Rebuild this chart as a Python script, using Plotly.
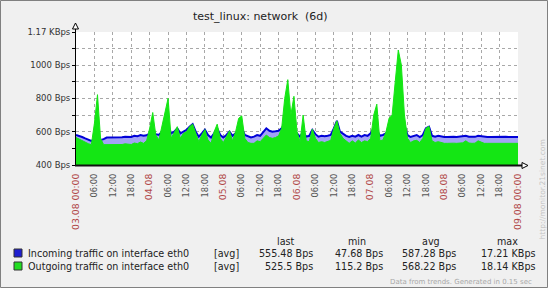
import plotly.graph_objects as go

# ---------------- data ----------------
hours = list(range(145))  # hours since 03.08 00:00
incoming = [
    580, 575, 568, 560, 552, 545, 550, 560, 550, 555,
    565, 565, 566, 568, 568, 566, 570, 570, 568, 575,
    572, 580, 575, 578, 590, 600, 585, 580, 600, 620,
    640, 590, 600, 620, 590, 600, 610, 630, 645, 600,
    570, 590, 612, 580, 565, 590, 620, 580, 565, 580,
    600, 575, 590, 620, 620, 580, 570, 565, 570, 580,
    575, 600, 620, 605, 600, 602, 605, 620, 650, 680,
    600, 620, 590, 570, 600, 570, 575, 610, 585, 570,
    575, 572, 575, 580, 620, 665, 600, 585, 575, 568,
    575, 570, 580, 570, 580, 575, 590, 620, 610, 575,
    580, 590, 620, 640, 700, 750, 700, 640, 580, 568,
    575, 580, 568, 580, 620, 630, 575, 570, 575, 570,
    568, 568, 570, 569, 568, 569, 570, 575, 570, 568,
    569, 575, 572, 568, 568, 568, 569, 568, 568, 570,
    569, 568, 568, 569, 568,
]
outgoing = [
    565, 555, 545, 535, 528, 522, 650, 822, 560, 522,
    522, 522, 522, 525, 525, 523, 527, 525, 523, 532,
    528, 538, 530, 545, 620, 715, 580, 550, 640, 720,
    800, 560, 600, 630, 560, 590, 600, 630, 645, 590,
    540, 580, 612, 550, 530, 600, 645, 560, 535, 570,
    605, 545, 600, 680, 695, 560, 535, 530, 530, 545,
    540, 560, 580, 565, 560, 565, 575, 620, 800, 912,
    700, 812, 600, 540, 700, 545, 540, 615, 560, 535,
    540, 535, 540, 548, 620, 665, 590, 560, 545, 530,
    545, 532, 550, 535, 545, 540, 560, 700, 765, 545,
    550, 600, 680, 700, 900, 1090, 1000, 700, 560, 535,
    545, 548, 535, 560, 620, 632, 545, 535, 540, 535,
    530, 530, 532, 531, 530, 531, 533, 545, 532, 530,
    531, 545, 535, 530, 530, 530, 531, 530, 530, 532,
    531, 530, 530, 531, 530,
]

title_text = "test_linux: network  (6d)"
tick_hours = list(range(0, 145, 6))
day_labels = ["03.08 00:00", "04.08", "05.08", "06.08", "07.08", "08.08", "09.08 00:00"]
hour_labels = ["06:00", "12:00", "18:00"]
y_tickvals = [400, 500, 600, 700, 800, 900, 1000, 1100, 1198]
y_ticktext = ["400 Bps", "", "600 Bps", "", "800 Bps", "", "1000 Bps", "", "1.17 KBps"]

series_names = ["Incoming traffic on interface eth0", "Outgoing traffic on interface eth0"]
series_swatch = ["#1f1fd0", "#22dd22"]
stat_headers = ["last", "min", "avg", "max"]
stats_incoming = ["555.48 Bps", "47.68 Bps", "587.28 Bps", "17.21 KBps"]
stats_outgoing = ["525.5 Bps", "115.2 Bps", "568.22 Bps", "18.14 KBps"]
footer_text = "Data from trends. Generated in 0.15 sec"
url_text = "http://monitor.21sinet.com"

# ---------------- layout helpers ----------------
W, H = 548, 288
L, R, T, B = 76, 30, 32, 123
PW, PH = W - L - R, H - T - B
FONT = "DejaVu Sans"


def px(x):
    return (x - L) / PW


def py(y):
    return (T + PH - y) / PH


DAY_COLOR = "#b04848"
ticktext = []
for h in tick_hours:
    if h % 24 == 0:
        ticktext.append('<span style="color:%s;font-size:9.3px">%s</span>' % (DAY_COLOR, day_labels[h // 24]))
    else:
        ticktext.append(hour_labels[(h % 24) // 6 - 1])

fig = go.Figure()
fig.add_trace(go.Scatter(x=hours, y=incoming, mode="lines", line=dict(width=0, color="#a3a3f5"),
                         fill="tozeroy", fillcolor="#a3a3f5", hoverinfo="skip", showlegend=False))
fig.add_trace(go.Scatter(x=hours, y=incoming, mode="lines", line=dict(width=2, color="#0000d8"),
                         hoverinfo="skip", showlegend=False))
fig.add_trace(go.Scatter(x=hours, y=outgoing, mode="lines", line=dict(width=1, color="#14e614"),
                         fill="tozeroy", fillcolor="#14e614", hoverinfo="skip", showlegend=False))

shapes = []
# axis lines
shapes.append(dict(type="line", xref="paper", yref="paper", x0=px(75.5), x1=px(75.5), y0=py(166), y1=py(25),
                   line=dict(color="#000", width=1)))
shapes.append(dict(type="line", xref="paper", yref="paper", x0=px(75), x1=px(525), y0=py(165.5), y1=py(165.5),
                   line=dict(color="#111", width=2)))
# arrows
shapes.append(dict(type="path", xref="paper", yref="paper",
                   path="M %f %f L %f %f L %f %f Z" % (px(75.5), py(23), px(72.5), py(29), px(78.5), py(29)),
                   line=dict(color="#000", width=1), fillcolor="#ffffff"))
shapes.append(dict(type="path", xref="paper", yref="paper",
                   path="M %f %f L %f %f L %f %f Z" % (px(528), py(165.5), px(522), py(162.5), px(522), py(168.5)),
                   line=dict(color="#000", width=1), fillcolor="#ffffff"))
# image frame
shapes.append(dict(type="rect", xref="paper", yref="paper", x0=px(0.5), x1=px(547.5), y0=py(0.5), y1=py(287.5),
                   line=dict(color="#808080", width=1), fillcolor="rgba(0,0,0,0)", layer="below"))

annotations = []
annotations.append(dict(text=title_text, xref="paper", yref="paper", x=px(260), y=py(16), showarrow=False,
                        xanchor="center", yanchor="middle", font=dict(family=FONT, size=11, color="#222")))

LEG = 9.6
row_y = [253, 266]
stats_rows = [stats_incoming, stats_outgoing]
col_right = [315, 385, 458, 537]
col_head = [286, 357, 431, 507]
for i, name in enumerate(series_names):
    y = row_y[i]
    shapes.append(dict(type="rect", xref="paper", yref="paper", x0=px(14), x1=px(22), y0=py(y - 4), y1=py(y + 4),
                       line=dict(color="#333", width=1), fillcolor=series_swatch[i]))
    annotations.append(dict(text=name, xref="paper", yref="paper", x=px(26), y=py(y), showarrow=False,
                            xanchor="left", yanchor="middle", font=dict(family=FONT, size=LEG, color="#222")))
    annotations.append(dict(text="[avg]", xref="paper", yref="paper", x=px(241), y=py(y), showarrow=False,
                            xanchor="right", yanchor="middle", font=dict(family=FONT, size=LEG, color="#222")))
    for j, v in enumerate(stats_rows[i]):
        annotations.append(dict(text=v, xref="paper", yref="paper", x=px(col_right[j]), y=py(y), showarrow=False,
                                xanchor="right", yanchor="middle", font=dict(family=FONT, size=LEG, color="#222")))
for j, hd in enumerate(stat_headers):
    annotations.append(dict(text=hd, xref="paper", yref="paper", x=px(col_head[j]), y=py(241), showarrow=False,
                            xanchor="center", yanchor="middle", font=dict(family=FONT, size=LEG, color="#222")))
annotations.append(dict(text=footer_text, xref="paper", yref="paper", x=px(534), y=py(282), showarrow=False,
                        xanchor="right", yanchor="middle", font=dict(family=FONT, size=7, color="#a8a8a8")))
annotations.append(dict(text=url_text, xref="paper", yref="paper", x=px(541.5), y=py(190), showarrow=False,
                        textangle=-90, xanchor="center", yanchor="middle",
                        font=dict(family=FONT, size=7.5, color="#c4c4c4")))

fig.update_layout(
    width=W, height=H, autosize=False,
    margin=dict(l=L, r=R, t=T, b=B, pad=0),
    paper_bgcolor="#f0f0f0", plot_bgcolor="#ffffff",
    showlegend=False,
    shapes=shapes, annotations=annotations,
    xaxis=dict(range=[0, 144], tickmode="array", tickvals=tick_hours, ticktext=ticktext, tickangle=-90,
               showgrid=True, gridcolor="#a8a8a8", griddash="dot", gridwidth=1, zeroline=False,
               showline=False, ticks="", ticklabelstandoff=6,
               tickfont=dict(family=FONT, size=8.3, color="#555")),
    yaxis=dict(range=[400, 1198], tickmode="array", tickvals=y_tickvals, ticktext=y_ticktext,
               showgrid=True, gridcolor="#a8a8a8", griddash="dot", gridwidth=1, zeroline=False,
               showline=False, ticks="outside", ticklen=3, tickcolor="#000",
               tickfont=dict(family=FONT, size=8.5, color="#333")),
)

fig.write_html("out.html")
